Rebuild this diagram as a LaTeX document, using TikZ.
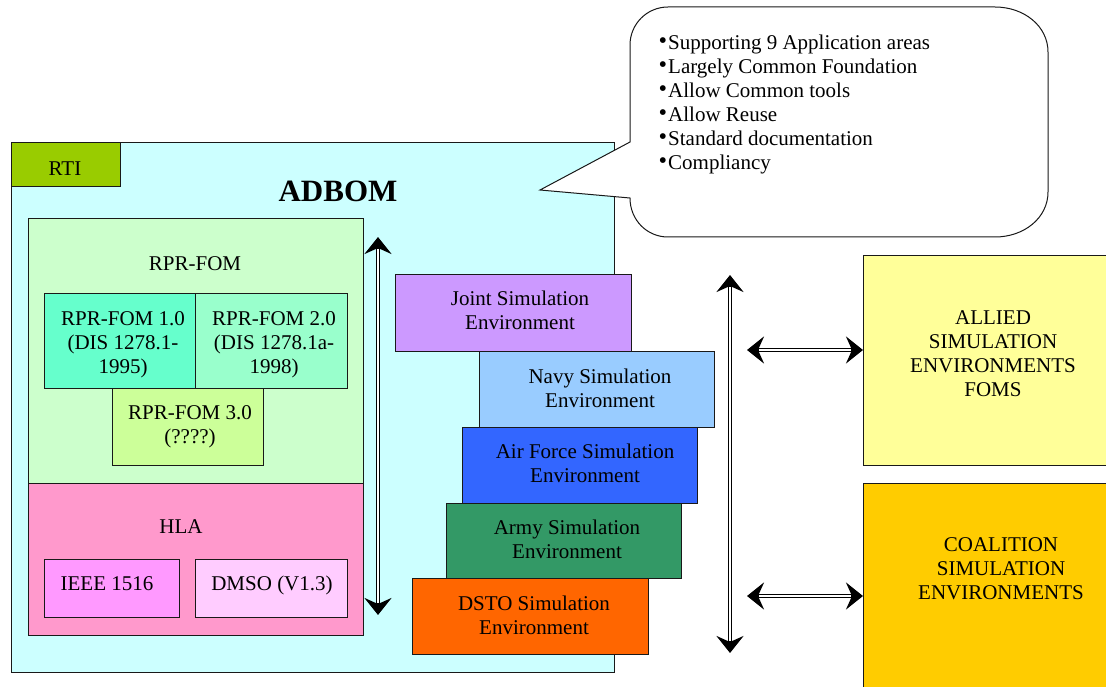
\documentclass[tikz,border=0pt]{standalone}
\usepackage{fontspec}
\setmainfont{Liberation Serif}
\newfontfamily\djv{DejaVu Sans}
\usetikzlibrary{arrows.meta}
\definecolor{cadbom}{HTML}{CCFFFF}
\definecolor{crti}{HTML}{99CC00}
\definecolor{crpr}{HTML}{CCFFCC}
\definecolor{crpra}{HTML}{66FFCC}
\definecolor{crprb}{HTML}{99FFCC}
\definecolor{crprc}{HTML}{CCFF99}
\definecolor{chla}{HTML}{FF99CC}
\definecolor{cieee}{HTML}{FF99FF}
\definecolor{cdmso}{HTML}{FFCCFF}
\definecolor{cjoint}{HTML}{CC99FF}
\definecolor{cnavy}{HTML}{99CCFF}
\definecolor{cairf}{HTML}{3366FF}
\definecolor{carmy}{HTML}{339966}
\definecolor{cdsto}{HTML}{FF6600}
\definecolor{callied}{HTML}{FFFF99}
\definecolor{ccoal}{HTML}{FFCC00}
\newcommand{\cbullet}{\makebox[8.5pt][l]{\raisebox{7pt}{\djv\fontsize{7.5}{7.5}\selectfont ●}}}
\begin{document}
\begin{tikzpicture}[x=1pt,y=-1pt,
  box/.style={draw=black!90, line width=1pt, rectangle, inner sep=0pt, anchor=north west},
  txt/.style={font=\fontsize{21}{24}\selectfont, align=center, inner sep=0pt},
  dbl/.style={line width=4.8pt, {Stealth[length=17pt,width=27pt,inset=6pt]}-{Stealth[length=17pt,width=27pt,inset=6pt]}},
  dblin/.style={white, line width=1.6pt, shorten <=12pt, shorten >=12pt},
  callout/.style={draw=black!90, fill=white, line width=1pt}]
\useasboundingbox (0,0) rectangle (1106,687);
\fill[white] (0,0) rectangle (1106,687);

% ADBOM container
\node[box, fill=cadbom, minimum width=603pt, minimum height=530pt] (adbom) at (11,142) {};
\node[box, fill=crti, minimum width=109pt, minimum height=44pt] (rti) at (11,142) {};
\node[txt, anchor=base] (rtit) at (65,176) {RTI};
\node[font=\fontsize{31}{36}\selectfont\bfseries, inner sep=0pt, anchor=base] (adbomt) at (338,202) {ADBOM};

% RPR-FOM
\node[box, fill=crpr, minimum width=335pt, minimum height=265pt] (rpr) at (28,218) {};
\node[txt, anchor=base] (rprt) at (195,271) {RPR-FOM};
\node[box, fill=crpra, minimum width=151pt, minimum height=95pt] (rpra) at (44,293) {};
\node[box, fill=crprb, minimum width=152pt, minimum height=95pt] (rprb) at (195,293) {};
\node[box, fill=crprc, minimum width=151pt, minimum height=77pt] (rprc) at (112,388) {};
\node[txt] (rprat) at (123,345) {RPR-FOM 1.0\\(DIS 1278.1-\\1995)};
\node[txt] (rprbt) at (274,345) {RPR-FOM 2.0\\(DIS 1278.1a-\\1998)};
\node[txt] (rprct) at (190,427) {RPR-FOM 3.0\\(????)};

% HLA
\node[box, fill=chla, minimum width=335pt, minimum height=152pt] (hla) at (28,483) {};
\node[txt, anchor=base] (hlat) at (181,533) {HLA};
\node[box, fill=cieee, minimum width=135pt, minimum height=58pt] (ieee) at (44,559) {};
\node[box, fill=cdmso, minimum width=152pt, minimum height=58pt] (dmso) at (195,559) {};
\node[txt, anchor=base] (ieeet) at (107,590) {IEEE 1516};
\node[txt, anchor=base] (dmsot) at (272,590) {DMSO (V1.3)};

% left vertical arrow
\coordinate (la1) at (378,237);
\coordinate (la2) at (378,615);
\draw[dbl] (la1) -- (la2);
\draw[dblin] (la1) -- (la2);

% simulation environments
\node[box, fill=cjoint, minimum width=236pt, minimum height=77pt] (joint) at (395,274) {};
\node[box, fill=cnavy, minimum width=235pt, minimum height=76pt] (navy) at (479,351) {};
\node[box, fill=cairf, minimum width=235pt, minimum height=76pt] (airf) at (462,427) {};
\node[box, fill=carmy, minimum width=235pt, minimum height=75pt] (army) at (446,503) {};
\node[box, fill=cdsto, minimum width=236pt, minimum height=76pt] (dsto) at (412,578) {};
\node[txt] (jointt) at (520,310) {Joint Simulation\\Environment};
\node[txt] (navyt) at (600,388) {Navy Simulation\\Environment};
\node[txt] (airft) at (585,463) {Air Force Simulation\\Environment};
\node[txt] (armyt) at (567,539.5) {Army Simulation\\Environment};
\node[txt] (dstot) at (534,615) {DSTO Simulation\\Environment};

% right side boxes
\node[box, fill=callied, minimum width=260pt, minimum height=210pt] (allied) at (863,255) {};
\node[box, fill=ccoal, minimum width=260pt, minimum height=220pt] (coal) at (863,483) {};
\node[txt] (alliedt) at (993,354) {ALLIED\\SIMULATION\\ENVIRONMENTS\\FOMS};
\node[txt] (coalt) at (1001,568.5) {COALITION\\SIMULATION\\ENVIRONMENTS};

% right vertical arrow
\coordinate (ra1) at (730,275);
\coordinate (ra2) at (730,653);
\draw[dbl] (ra1) -- (ra2);
\draw[dblin] (ra1) -- (ra2);

% horizontal arrows
\coordinate (h1) at (747,350);
\coordinate (h2) at (747,596);
\draw[dbl] (h1) -- (h1 -| allied.west);
\draw[dblin] (h1) -- (h1 -| allied.west);
\draw[dbl] (h2) -- (h2 -| coal.west);
\draw[dblin] (h2) -- (h2 -| coal.west);

% callout
\draw[callout] (630,142) -- (540,190) -- (630,198)
  .. controls (630,220) and (647,237) .. (668,237)
  -- (995,237)
  .. controls (1024,237) and (1048,218) .. (1048,192)
  -- (1048,52)
  .. controls (1048,26) and (1024,7) .. (995,7)
  -- (668,7)
  .. controls (647,7) and (630,24) .. (630,45)
  -- cycle;
\node[txt, align=left, anchor=north west] (callt) at (659.5,34.5)
 {\cbullet Supporting 9 Application areas\\
  \cbullet Largely Common Foundation\\
  \cbullet Allow Common tools\\
  \cbullet Allow Reuse\\
  \cbullet Standard documentation\\
  \cbullet Compliancy};
\end{tikzpicture}
\end{document}
